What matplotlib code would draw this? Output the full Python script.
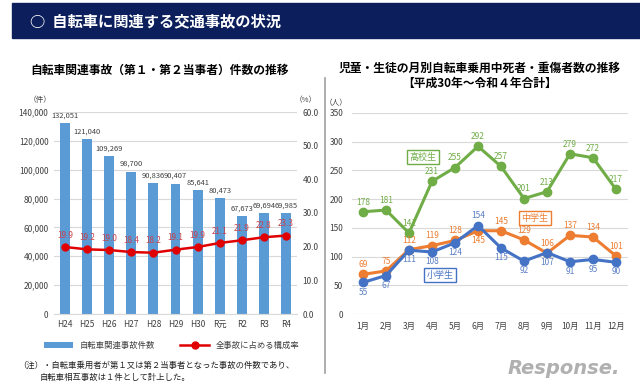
import matplotlib.pyplot as plt
from matplotlib.patches import Rectangle
from matplotlib.lines import Line2D

plt.rcParams['font.family'] = ['Noto Sans CJK JP', 'DejaVu Sans']

# Left chart data
years = ['H24', 'H25', 'H26', 'H27', 'H28', 'H29', 'H30', 'R元', 'R2', 'R3', 'R4']
accidents = [132051, 121040, 109269, 98700, 90836, 90407, 85641, 80473, 67673, 69694, 69985]
share = [19.9, 19.2, 19.0, 18.4, 18.2, 19.1, 19.9, 21.1, 21.9, 22.8, 23.3]

# Right chart data
months = ['1月', '2月', '3月', '4月', '5月', '6月', '7月', '8月', '9月', '10月', '11月', '12月']
high = [178, 181, 141, 231, 255, 292, 257, 201, 213, 279, 272, 217]
middle = [69, 75, 112, 119, 128, 145, 145, 129, 106, 137, 134, 101]
elem = [55, 67, 111, 108, 124, 154, 115, 92, 107, 91, 95, 90]

W, H = 640, 384


def px(x0, y0, x1, y1):
    # pixel box (top-left origin) -> figure fraction rect
    return [x0 / W, 1 - y1 / H, (x1 - x0) / W, (y1 - y0) / H]


fig = plt.figure(figsize=(6.4, 3.84), dpi=100)

# banner
fig.patches.append(Rectangle((12 / W, 1 - 38 / H), (W - 12) / W, 35 / H,
                             transform=fig.transFigure, color='#0c1f5c', zorder=0))
fig.text(30 / W, 1 - 21 / H, '○  自転車に関連する交通事故の状況', color='white',
         fontsize=11, fontweight='bold', va='center')

# divider
fig.add_artist(Line2D([325 / W, 325 / W], [1 - 78 / H, 1 - 373 / H],
                      transform=fig.transFigure, color='#a0a0a0', lw=1.2))

grid_c = '#d9d9d9'
tick_c = '#404040'

# ---------- left chart ----------
ax = fig.add_axes(px(54, 112, 297, 314))
x = range(len(years))
ax.bar(x, accidents, width=0.45, color='#5b9bd5', zorder=2, label='自転車関連事故件数')
ax.set_ylim(0, 140000)
ax.set_xlim(-0.5, len(years) - 0.5)
ax.set_yticks(range(0, 140001, 20000))
ax.set_yticklabels([f'{v:,}' for v in range(0, 140001, 20000)])
ax.set_xticks(list(x))
ax.set_xticklabels(years)
ax.grid(axis='y', color=grid_c, lw=0.8, zorder=0)
for s in ['top', 'right', 'left']:
    ax.spines[s].set_visible(False)
ax.spines['bottom'].set_color(grid_c)
ax.tick_params(length=0, labelsize=6, colors=tick_c, pad=4)
for i, v in enumerate(accidents):
    ax.text(i, v + 2500, f'{v:,}', ha='center', va='bottom', fontsize=5.4, color=tick_c)

ax2 = ax.twinx()
ax2.plot(x, share, color='#e00000', lw=1.8, marker='o', ms=5, zorder=3,
         label='全事故に占める構成率')
ax2.set_ylim(0, 60)
ax2.set_yticks(range(0, 61, 10))
ax2.set_yticklabels([f'{v:.1f}' for v in range(0, 61, 10)])
for s in ax2.spines.values():
    s.set_visible(False)
ax2.tick_params(length=0, labelsize=6, colors=tick_c, pad=4)
for i, v in enumerate(share):
    ax2.text(i, v + 2.2, f'{v:.1f}', ha='center', va='bottom', fontsize=5.8, color='#c8404c')

fig.text(160 / W, 1 - 70 / H, '自転車関連事故（第１・第２当事者）件数の推移',
         ha='center', va='center', fontsize=8.5, fontweight='bold')
fig.text(40 / W, 1 - 100 / H, '（件）', ha='center', va='center', fontsize=5.5, color=tick_c)
fig.text(306 / W, 1 - 100 / H, '（%）', ha='center', va='center', fontsize=5.5, color=tick_c)

h1, l1 = ax.get_legend_handles_labels()
h2, l2 = ax2.get_legend_handles_labels()
fig.legend(h1 + h2, l1 + l2, ncol=2, loc='center', bbox_to_anchor=(172 / W, 1 - 345 / H),
           frameon=False, fontsize=6, handlelength=3.5, columnspacing=3,
           labelcolor=tick_c)

fig.text(18 / W, 1 - 365 / H, '（注）・自転車乗用者が第１又は第２当事者となった事故の件数であり、',
         fontsize=6, color='#202020', va='center')
fig.text(40 / W, 1 - 377 / H, '自転車相互事故は１件として計上した。',
         fontsize=6, color='#202020', va='center')

# ---------- right chart ----------
bx = fig.add_axes(px(351.5, 113, 627.5, 314))
m = range(len(months))
series = [
    (high, '#70ad47', '#70ad47', []),
    (middle, '#ed7d31', '#ed7d31', [5]),
    (elem, '#4472c4', '#5b7fc4', [i for i in range(12) if i != 5]),
]
for vals, c, lc, below in series:
    bx.plot(m, vals, color=c, lw=2.2, marker='o', ms=6, zorder=3)
    for i, v in enumerate(vals):
        if i in below:
            bx.text(i, v - 9, str(v), ha='center', va='top', fontsize=6, color=lc)
        else:
            bx.text(i, v + 9, str(v), ha='center', va='bottom', fontsize=6, color=lc)
bx.set_ylim(0, 350)
bx.set_xlim(-0.5, len(months) - 0.5)
bx.set_yticks(range(0, 351, 50))
bx.set_xticks(list(m))
bx.set_xticklabels(months)
bx.grid(axis='y', color=grid_c, lw=0.8, zorder=0)
for s in bx.spines.values():
    s.set_visible(False)
bx.tick_params(length=0, labelsize=6, colors=tick_c, pad=6)

fig.text(480 / W, 1 - 68 / H, '児童・生徒の月別自転車乗用中死者・重傷者数の推移',
         ha='center', va='center', fontsize=8.5, fontweight='bold')
fig.text(480 / W, 1 - 83 / H, '【平成30年～令和４年合計】',
         ha='center', va='center', fontsize=8.5, fontweight='bold')
fig.text(336 / W, 1 - 103 / H, '（人）', ha='center', va='center', fontsize=5.5, color=tick_c)

for name, cx, cy, c in [('高校生', 423, 157, '#70ad47'), ('中学生', 535, 218, '#ed7d31'),
                        ('小学生', 440, 275, '#4472c4')]:
    fig.text(cx / W, 1 - cy / H, name, ha='center', va='center', fontsize=6.5, color=c,
             bbox=dict(boxstyle='square,pad=0.3', fc='white', ec=c, lw=1))

fig.text(620 / W, 1 - 368 / H, 'Response.', ha='right', va='center', fontsize=14,
         color='#b0b0b0', fontweight='bold', style='italic', family='DejaVu Sans')

fig.savefig('out.png', dpi=100)
